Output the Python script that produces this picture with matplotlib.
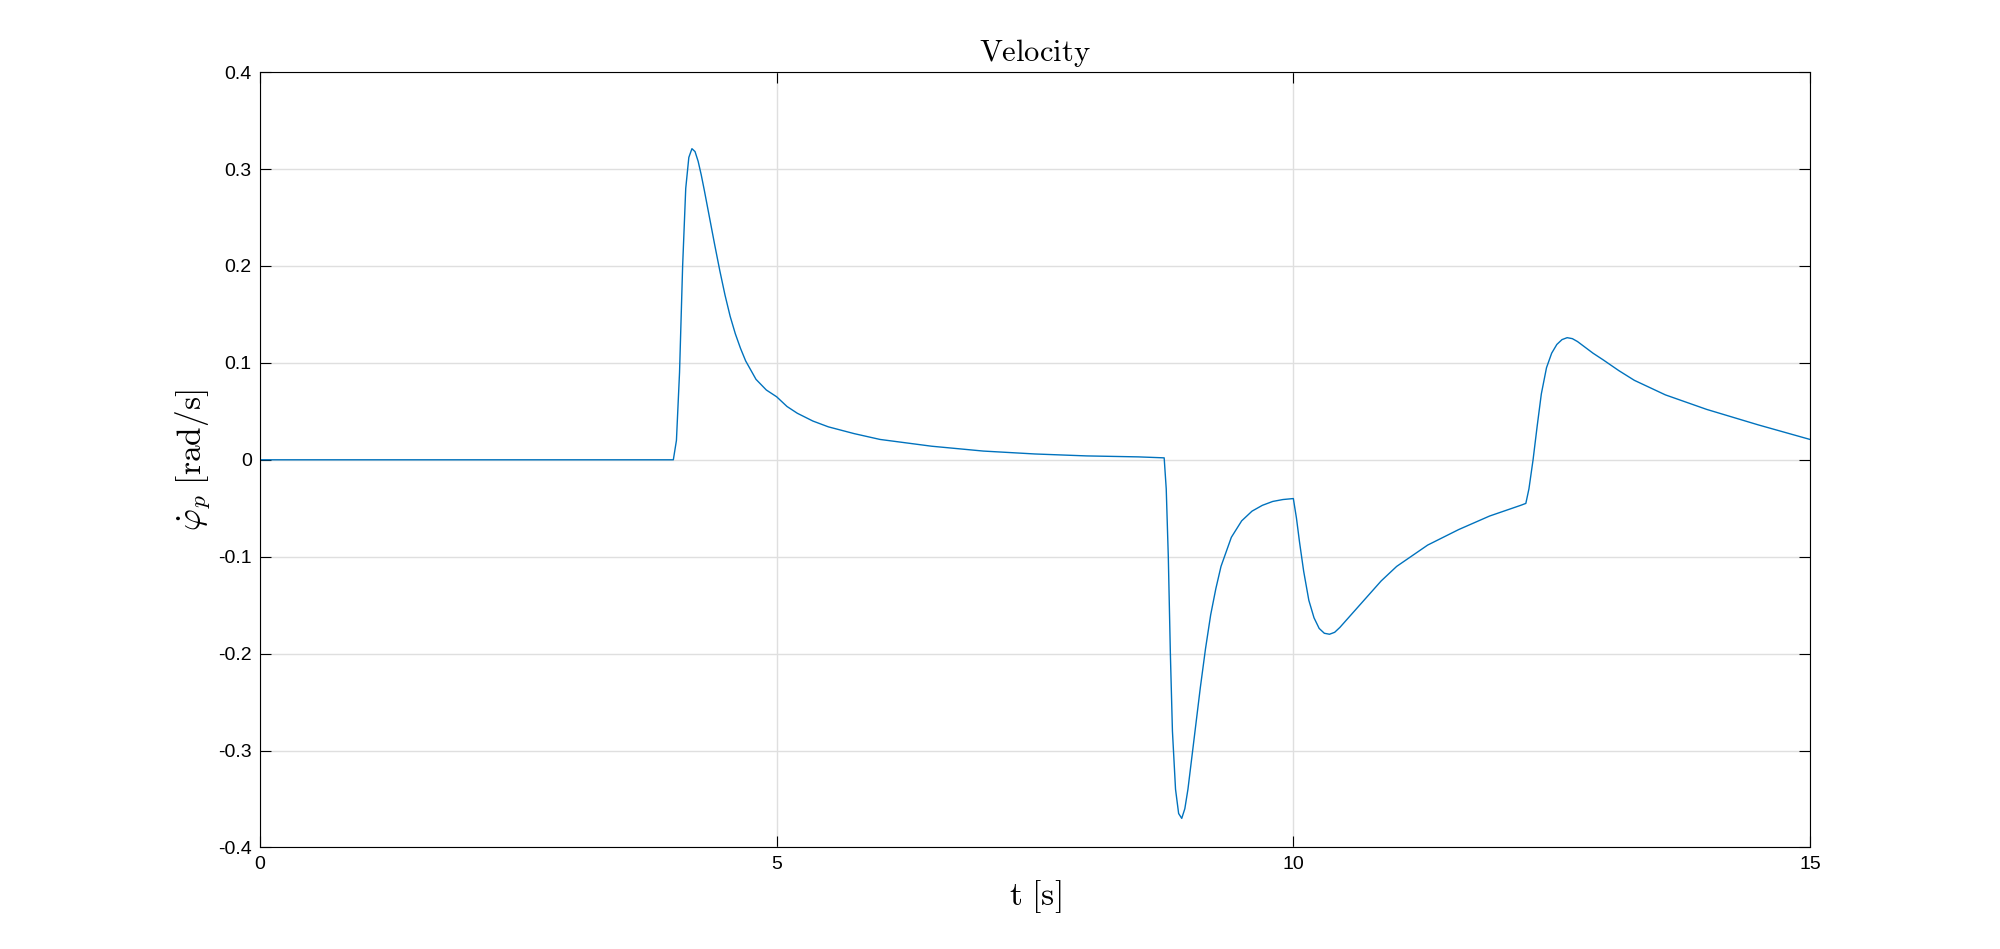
import matplotlib
matplotlib.use("Agg")
import matplotlib.pyplot as plt
from matplotlib.ticker import FuncFormatter

t = [0, 4.0, 4.03, 4.06, 4.09, 4.12, 4.15, 4.18, 4.21, 4.24, 4.27, 4.3, 4.35, 4.4, 4.45, 4.5, 4.55, 4.6, 4.65, 4.7, 4.8, 4.9, 5.0, 5.1, 5.2, 5.35, 5.5, 5.75, 6.0, 6.5, 7.0, 7.5, 8.0, 8.5, 8.75,
     8.77, 8.79, 8.81, 8.83, 8.86, 8.89, 8.92, 8.95, 8.98, 9.02, 9.06, 9.1, 9.15, 9.2, 9.25, 9.3, 9.4, 9.5, 9.6, 9.7, 9.8, 9.9, 10.0,
     10.03, 10.06, 10.1, 10.15, 10.2, 10.25, 10.3, 10.35, 10.4, 10.45, 10.5, 10.6, 10.7, 10.85, 11.0, 11.3, 11.6, 11.9, 12.2, 12.25,
     12.28, 12.32, 12.36, 12.4, 12.45, 12.5, 12.55, 12.6, 12.65, 12.7, 12.75, 12.8, 12.9, 13.0, 13.15, 13.3, 13.6, 14.0, 14.5, 15.0]
v = [0, 0, 0.02, 0.09, 0.2, 0.28, 0.312, 0.321, 0.318, 0.308, 0.294, 0.278, 0.25, 0.222, 0.195, 0.17, 0.148, 0.13, 0.115, 0.102, 0.083, 0.072, 0.065, 0.055, 0.048, 0.04, 0.034, 0.027, 0.021, 0.014, 0.009, 0.006, 0.004, 0.003, 0.002,
     -0.03, -0.1, -0.2, -0.28, -0.34, -0.365, -0.37, -0.36, -0.34, -0.305, -0.27, -0.235, -0.195, -0.16, -0.133, -0.11, -0.08, -0.063, -0.053, -0.047, -0.043, -0.041, -0.04,
     -0.06, -0.085, -0.115, -0.145, -0.163, -0.174, -0.179, -0.18, -0.178, -0.173, -0.167, -0.155, -0.143, -0.125, -0.11, -0.088, -0.072, -0.058, -0.047, -0.045,
     -0.03, 0.0, 0.035, 0.068, 0.095, 0.11, 0.119, 0.124, 0.126, 0.125, 0.122, 0.118, 0.11, 0.103, 0.092, 0.082, 0.067, 0.052, 0.036, 0.021]
xticks = [0, 5, 10, 15]
yticks = [-0.4, -0.3, -0.2, -0.1, 0, 0.1, 0.2, 0.3, 0.4]

plt.rcParams['font.family'] = ['Liberation Sans', 'DejaVu Sans']
plt.rcParams['mathtext.fontset'] = 'cm'
fig = plt.figure(figsize=(20, 9.49), dpi=100)
ax = fig.add_axes([0.13, 0.107, 0.775, 0.817])
ax.plot(t, v, color='#0072BD', lw=1.0)
ax.set_xlim(0, 15)
ax.set_ylim(-0.4, 0.4)
ax.set_xticks(xticks)
ax.set_yticks(yticks)
ax.yaxis.set_major_formatter(FuncFormatter(lambda y, p: ('%g' % round(y, 2)).replace('\u2212', '-')))
ax.grid(True, color='#dfdfdf', lw=1.0)
ax.set_axisbelow(True)
ax.tick_params(direction='in', top=True, right=True, labelsize=14, length=8, width=0.8, pad=6)
for s in ax.spines.values():
    s.set_linewidth(0.8)
ax.set_title(r'$\mathrm{Velocity}$', fontsize=22, pad=8)
ax.set_xlabel(r'$\mathrm{t\ [s]}$', fontsize=24)
ax.set_ylabel(r'$\dot{\varphi}_p\ \mathrm{[rad/s]}$', fontsize=24)
fig.savefig('out.png', dpi=100, facecolor='white')
